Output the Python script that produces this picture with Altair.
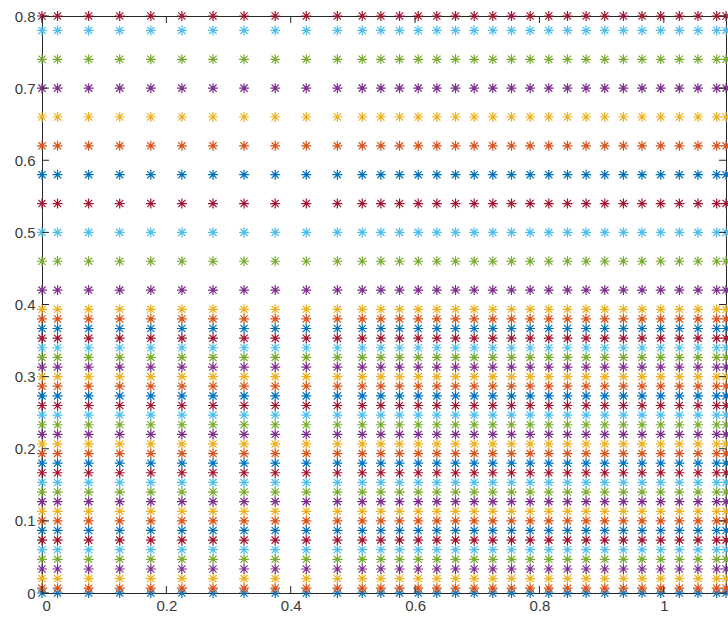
import altair as alt
import pandas as pd

# Column positions (x) and row positions (y) of the asterisk grid
xs = [0, 0.025, 0.075, 0.125, 0.175, 0.225, 0.275, 0.325, 0.375, 0.425, 0.475,
      0.515, 0.545, 0.575, 0.605, 0.635, 0.665, 0.695, 0.725, 0.755, 0.785,
      0.815, 0.845, 0.875, 0.905, 0.935, 0.965, 0.995, 1.025, 1.055, 1.085, 1.1]
ys = [0, 0.0067, 0.02, 0.0333, 0.0467, 0.06, 0.0733, 0.0867, 0.1, 0.1133,
      0.1267, 0.14, 0.1533, 0.1667, 0.18, 0.1933, 0.2067, 0.22, 0.2333, 0.2467,
      0.26, 0.2733, 0.2867, 0.3, 0.3133, 0.3267, 0.34, 0.3533, 0.3667, 0.38,
      0.3933, 0.42, 0.46, 0.50, 0.54, 0.58, 0.62, 0.66, 0.70, 0.74, 0.78, 0.80]

# MATLAB default colour order (one series per row)
palette = ["#0072BD", "#D95319", "#EDB120", "#7E2F8E", "#77AC30", "#4DBEEE", "#A2142F"]

x_ticks = [0, 0.2, 0.4, 0.6, 0.8, 1.0]
y_ticks = [0, 0.1, 0.2, 0.3, 0.4, 0.5, 0.6, 0.7, 0.8]

rows = []
order = 0
for i, yv in enumerate(ys):
    for xv in xs:
        rows.append({"x": xv, "y": yv, "series": i, "color": palette[i % len(palette)], "o": order})
        order += 1
df = pd.DataFrame(rows)

W, H = 684, 577
TL = 7
axis_col = "#262626"
label_col = "#3a3a3a"
font = "Liberation Sans"

xscale = alt.Scale(domain=[0, 1.1], nice=False, zero=False)
yscale = alt.Scale(domain=[0, 0.8], nice=False, zero=False)

star = "M-1,0L1,0M0,-1L0,1M-0.72,-0.72L0.72,0.72M-0.72,0.72L0.72,-0.72"

points = alt.Chart(df).mark_point(shape=star, filled=False, strokeWidth=1.2, size=100, opacity=1).encode(
    x=alt.X("x:Q", scale=xscale,
            axis=alt.Axis(values=x_ticks, format="~g", title=None, ticks=False, domain=False,
                          grid=False, labelPadding=5, labelFontSize=15, labelFont=font,
                          labelColor=label_col)),
    y=alt.Y("y:Q", scale=yscale,
            axis=alt.Axis(values=y_ticks, format="~g", title=None, ticks=False, domain=False,
                          grid=False, labelPadding=7, labelFontSize=15, labelFont=font,
                          labelColor=label_col)),
    color=alt.Color("color:N", scale=None, legend=None),
    order=alt.Order("o:Q"),
)

xt = pd.DataFrame({"t": x_ticks})
yt = pd.DataFrame({"t": y_ticks})

bottom_ticks = alt.Chart(xt).mark_rule(color=axis_col, strokeWidth=1).encode(
    x=alt.X("t:Q", scale=xscale), y=alt.value(H), y2=alt.value(H - TL))
top_ticks = alt.Chart(xt).mark_rule(color=axis_col, strokeWidth=1).encode(
    x=alt.X("t:Q", scale=xscale), y=alt.value(0), y2=alt.value(TL))
left_ticks = alt.Chart(yt).mark_rule(color=axis_col, strokeWidth=1).encode(
    y=alt.Y("t:Q", scale=yscale), x=alt.value(0), x2=alt.value(TL))
right_ticks = alt.Chart(yt).mark_rule(color=axis_col, strokeWidth=1).encode(
    y=alt.Y("t:Q", scale=yscale), x=alt.value(W), x2=alt.value(W - TL))

chart = alt.layer(points, bottom_ticks, top_ticks, left_ticks, right_ticks).properties(
    width=W, height=H,
    autosize=alt.AutoSizeParams(type="none"),
    padding={"left": 42, "top": 16, "right": 2, "bottom": 28},
    background="white",
).configure_view(stroke=axis_col, strokeWidth=1)

chart.save("out.html", embed_options={"renderer": "svg", "actions": False})
